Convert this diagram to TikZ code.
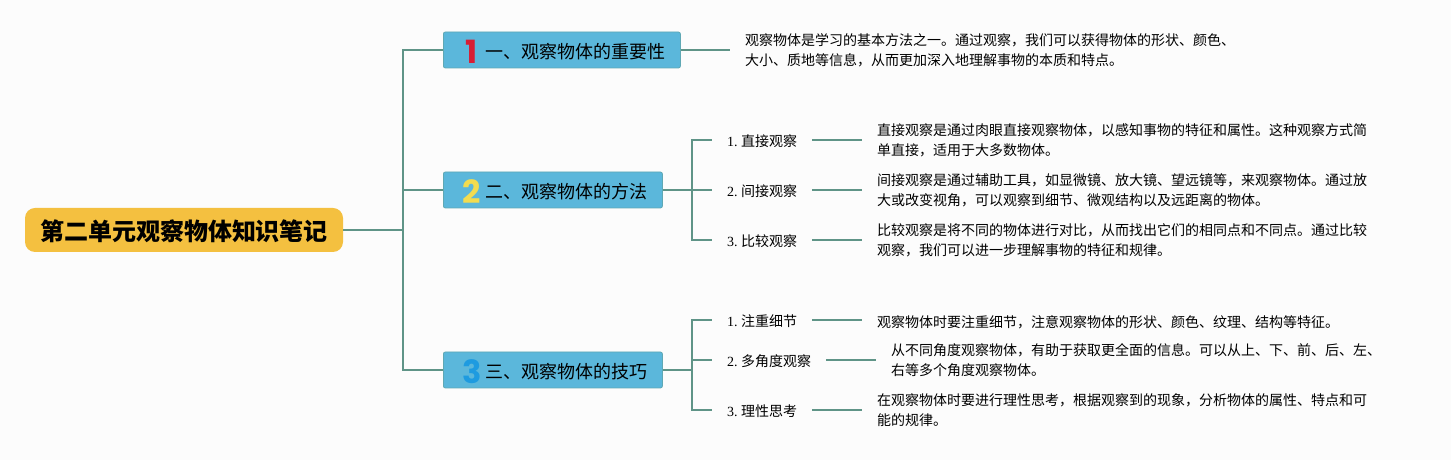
\documentclass[tikz,border=0pt]{standalone}
\usepackage{fontspec}
\usepackage{xcolor}
\usepackage{tikz}
\usetikzlibrary{positioning, calc}
\setmainfont{Liberation Serif}
\newfontfamily\cjk{Noto Sans CJK SC}
\newfontfamily\numfont{Poppins}[BoldFont={Poppins Bold}]
\definecolor{paperwhite}{HTML}{FCFCFC}
\definecolor{rootyellow}{HTML}{F4C040}
\definecolor{branchblue}{HTML}{5BB7DB}
\definecolor{branchedge}{HTML}{5FA8B4}
\definecolor{linkgreen}{HTML}{5F9487}
\definecolor{numred}{HTML}{D81E34}
\definecolor{numyellow}{HTML}{F2DC50}
\definecolor{numblue}{HTML}{1E9BE0}
\newcommand{\numtag}[2]{\makebox[27pt][c]{\smash{\raisebox{-5pt}{\fontsize{32}{32}\numfont\bfseries\color{#1}#2}}}}
\frenchspacing

\begin{document}
\begin{tikzpicture}[
    x=1pt, y=1pt,
    rootbox/.style={rectangle, fill=rootyellow, minimum width=318pt,
                   minimum height=44pt, rounded corners=10pt, inner sep=0pt,
                   execute at begin node={\rule{0pt}{23pt}},
                   font=\cjk\bfseries\fontsize{24}{24}\selectfont},
    branch/.style={rectangle, draw=branchedge, fill=branchblue, anchor=west,
                   minimum height=36pt, inner xsep=15pt, inner ysep=0pt,
                   rounded corners=2pt, line width=0.8pt,
                   execute at begin node={\rule{0pt}{19pt}},
                   font=\cjk\fontsize{18}{18}\selectfont},
    leaf/.style={anchor=west, inner xsep=15pt, inner ysep=0pt,
                 execute at begin node={\rule{0pt}{14.3pt}},
                 font=\fontsize{14}{14}\selectfont},
    desc/.style={anchor=west, inner xsep=15pt, inner ysep=0pt, align=left,
                 execute at begin node={\rule{0pt}{16.3pt}},
                 font=\cjk\fontsize{14}{20}\selectfont},
    link/.style={draw=linkgreen, line width=1.8pt}
]

\fill[paperwhite] (0,0) rectangle (1451,460);
\useasboundingbox (0,0) rectangle (1451,460);

% Root and main branches
\node[rootbox] at (184,230) (root) {第二单元观察物体知识笔记};
\node[branch] at (443,410) (first) {\numtag{numred}{1}一、观察物体的重要性};
\node[branch] at (443,270) (second) {\numtag{numyellow}{2}二、观察物体的方法};
\node[branch] at (443,90) (third) {\numtag{numblue}{3}三、观察物体的技巧};

% First branch text
\node[desc] at (730,410) (firstdesc) {观察物体是学习的基本方法之一。通过观察，我们可以获得物体的形状、颜色、\\大小、质地等信息，从而更加深入地理解事物的本质和特点。};

% Second branch
\node[leaf] at (712,320) (direct) {1. {\cjk 直接观察}};
\node[leaf] at (712,270) (indirect) {2. {\cjk 间接观察}};
\node[leaf] at (712,220) (compare) {3. {\cjk 比较观察}};
\node[desc] at (862,320) (directdesc) {直接观察是通过肉眼直接观察物体，以感知事物的特征和属性。这种观察方式简\\单直接，适用于大多数物体。};
\node[desc] at (862,270) (indirectdesc) {间接观察是通过辅助工具，如显微镜、放大镜、望远镜等，来观察物体。通过放\\大或改变视角，可以观察到细节、微观结构以及远距离的物体。};
\node[desc] at (862,220) (comparedesc) {比较观察是将不同的物体进行对比，从而找出它们的相同点和不同点。通过比较\\观察，我们可以进一步理解事物的特征和规律。};

% Third branch
\node[leaf] at (712,140) (detail) {1. {\cjk 注重细节}};
\node[leaf] at (712,100) (angle) {2. {\cjk 多角度观察}};
\node[leaf] at (712,50) (reason) {3. {\cjk 理性思考}};
\node[desc] at (862,140) (detaildesc) {观察物体时要注重细节，注意观察物体的形状、颜色、纹理、结构等特征。};
\node[desc] at (876,100) (angledesc) {从不同角度观察物体，有助于获取更全面的信息。可以从上、下、前、后、左、\\右等多个角度观察物体。};
\node[desc] at (862,50) (reasondesc) {在观察物体时要进行理性思考，根据观察到的现象，分析物体的属性、特点和可\\能的规律。};

% Junctions
\coordinate (roottrunk) at (403,230);
\coordinate (secondtrunk) at (692,270);
\coordinate (thirdtrunk) at (692,90);

% Connections
\draw[link] (root.east) -- (roottrunk);
\draw[link] (roottrunk) |- (first.west);
\draw[link] (roottrunk) |- (second.west);
\draw[link] (roottrunk) |- (third.west);
\draw[link] (first.east) -- (firstdesc.west);

\draw[link] (second.east) -- (secondtrunk);
\draw[link] (secondtrunk) |- (direct.west);
\draw[link] (secondtrunk) -- (indirect.west);
\draw[link] (secondtrunk) |- (compare.west);
\draw[link] (direct.east) -- (directdesc.west);
\draw[link] (indirect.east) -- (indirectdesc.west);
\draw[link] (compare.east) -- (comparedesc.west);

\draw[link] (third.east) -- (thirdtrunk);
\draw[link] (thirdtrunk) |- (detail.west);
\draw[link] (thirdtrunk) |- (angle.west);
\draw[link] (thirdtrunk) |- (reason.west);
\draw[link] (detail.east) -- (detaildesc.west);
\draw[link] (angle.east) -- (angledesc.west);
\draw[link] (reason.east) -- (reasondesc.west);

\end{tikzpicture}
\end{document}
